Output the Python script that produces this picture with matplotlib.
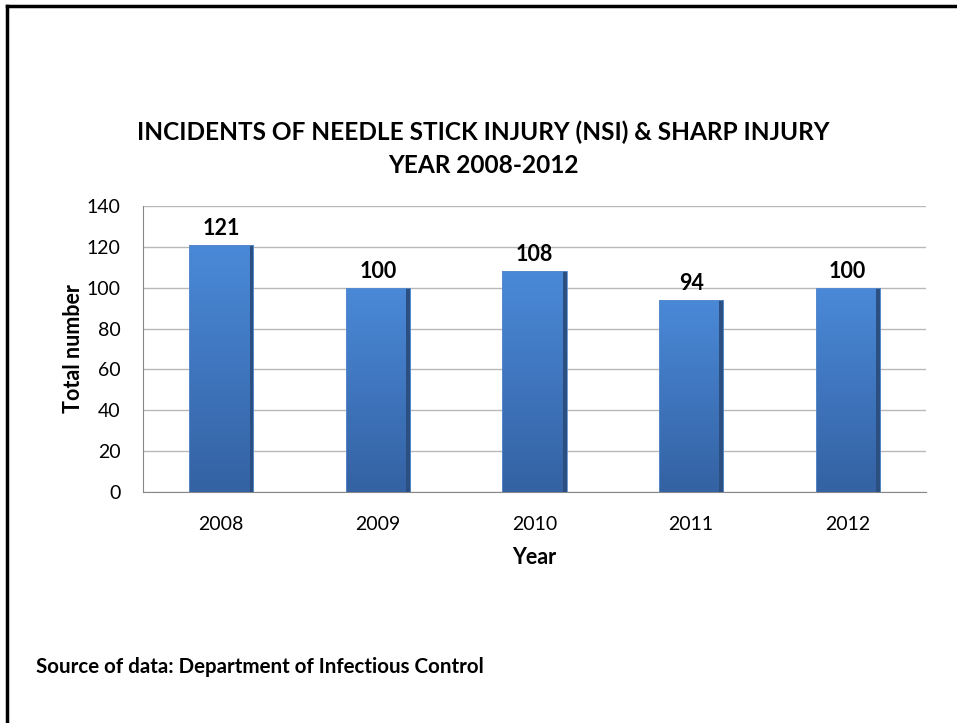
import matplotlib.pyplot as plt
import numpy as np
from matplotlib.colors import LinearSegmentedColormap
from matplotlib.lines import Line2D

years = ["2008", "2009", "2010", "2011", "2012"]
totals = [121, 100, 108, 94, 100]
title = "INCIDENTS OF NEEDLE STICK INJURY (NSI) & SHARP INJURY\nYEAR 2008-2012"
source = "Source of data: Department of Infectious Control"

plt.rcParams['font.family'] = ['Lato', 'DejaVu Sans']

fig = plt.figure(figsize=(9.57, 7.23), dpi=100)
ax = fig.add_axes([143/957, 1-492/723, 783/957, 286/723])

x = np.arange(len(years))
width = 0.41
bars = ax.bar(x, totals, width=width, color="none", edgecolor="none", zorder=3)

# vertical gradient inside each bar, darker towards the bottom and the right edge
cmap = LinearSegmentedColormap.from_list("bar", ["#3462a3", "#4a89d8"])
grad = np.linspace(0, 1, 256).reshape(-1, 1)
for b in bars:
    x0, y0 = b.get_x(), b.get_y()
    w, h = b.get_width(), b.get_height()
    im = ax.imshow(grad, cmap=cmap, extent=[x0, x0 + w, y0, y0 + h],
                   origin="lower", aspect="auto", zorder=3)
    im.set_clip_path(b)
    ax.add_patch(plt.Rectangle((x0 + w*0.94, y0), w*0.06, h, color="#2c4f82", zorder=4, lw=0))
    ax.add_patch(plt.Rectangle((x0, y0), w, h, fill=False, edgecolor="#5a8ccc", lw=0.6, zorder=5))
    ax.text(x0 + w/2, y0 + h + 3, str(int(h)), ha="center", va="bottom",
            fontsize=15.5, fontweight="bold", zorder=6)

ax.set_xlim(-0.5, len(years) - 0.5)
ax.set_ylim(0, 140)
ax.set_yticks(range(0, 141, 20))
ax.set_xticks(x)
ax.set_xticklabels(years)
ax.tick_params(axis="both", labelsize=14, colors="#888888", labelcolor="black")
ax.tick_params(axis="x", length=0, pad=17)
ax.tick_params(axis="y", length=0, pad=16)
ax.yaxis.grid(True, color="#b8b8b8", lw=1)
ax.set_axisbelow(True)
for s in ["top", "right"]:
    ax.spines[s].set_visible(False)
ax.spines["left"].set_color("#888888")
ax.spines["bottom"].set_color("#888888")

ax.set_xlabel("Year", fontsize=15.5, fontweight="bold", labelpad=10)
ax.set_ylabel("Total number", fontsize=15.5, fontweight="bold", labelpad=2)

fig.text(483/957, 1-148.5/723, title, ha="center", va="center",
         fontsize=17.6, fontweight="bold", linespacing=1.5)
fig.text(36/957, 1-667/723, source, ha="left", va="center",
         fontsize=14.8, fontweight="bold")

# frame (top and left edges visible)
fig.add_artist(Line2D([7/957, 1], [1-6/723, 1-6/723], color="black", lw=2.5,
                      transform=fig.transFigure))
fig.add_artist(Line2D([7.5/957, 7.5/957], [0, 1-6/723], color="black", lw=2.5,
                      transform=fig.transFigure))

fig.savefig("out.png", dpi=100)
